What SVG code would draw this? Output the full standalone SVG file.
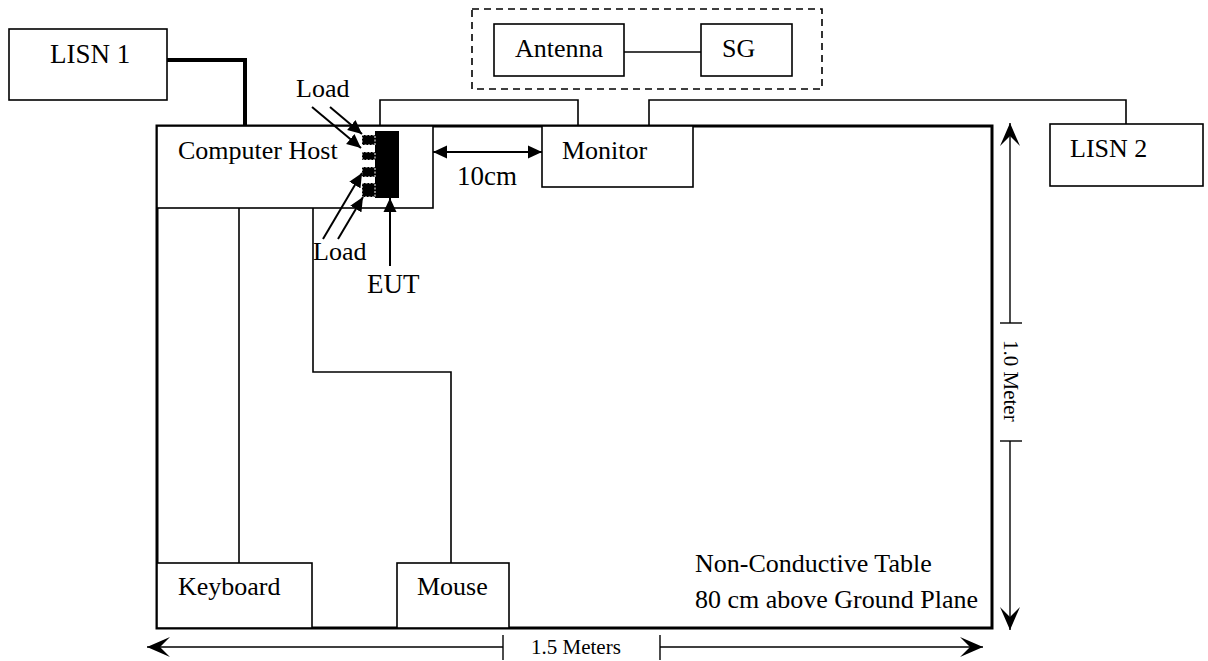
<svg xmlns="http://www.w3.org/2000/svg" width="1208" height="661" viewBox="0 0 1208 661">
<defs>
<style>
text{font-family:"Liberation Serif","Times New Roman",serif;fill:#000}
.lbl{font-size:26px}
.sm{font-size:21px}
.box{fill:#fff;stroke:#000;stroke-width:1.6}
.w{fill:none;stroke:#000;stroke-width:1.6}
.thick{fill:none;stroke:#000;stroke-width:4}
.arr{fill:none;stroke:#000;stroke-width:2}
.dim{fill:none;stroke:#000;stroke-width:1.4}
.port{fill:#000;stroke:#fff;stroke-width:1;stroke-dasharray:2,1.5}
</style>
<marker id="tri" viewBox="0 0 14 14" refX="14" refY="7" markerWidth="14" markerHeight="14" markerUnits="userSpaceOnUse" orient="auto-start-reverse">
<path d="M0,0.5 L14,7 L0,13.5 Z" fill="#000"/>
</marker>
<marker id="dimarr" viewBox="0 0 24 22" refX="23" refY="11" markerWidth="24" markerHeight="22" markerUnits="userSpaceOnUse" orient="auto-start-reverse">
<path d="M0,1 L23,11 L0,21 L10,11 Z" fill="#000"/>
</marker>
</defs>
<rect width="1208" height="661" fill="#fff"/>

<g id="table">
<rect x="157" y="126" width="835" height="502" fill="#fff" stroke="#000" stroke-width="3"/>
<text class="lbl" x="695" y="572">Non-Conductive Table</text>
<text class="lbl" x="695" y="608">80 cm above Ground Plane</text>
</g>

<g id="lisn1">
<rect class="box" x="9" y="29" width="158" height="71"/>
<text class="lbl" x="50" y="63" style="font-size:27px">LISN 1</text>
</g>

<g id="rf-source">
<rect x="472" y="9" width="350" height="80" fill="none" stroke="#000" stroke-width="1.6" stroke-dasharray="7,5"/>
</g>
<g id="antenna">
<rect class="box" x="494" y="24" width="130" height="52"/>
<text class="lbl" x="515" y="57">Antenna</text>
</g>
<g id="sg">
<rect class="box" x="701" y="24" width="91" height="52"/>
<text class="lbl" x="722" y="57">SG</text>
</g>

<g id="lisn2">
<rect class="box" x="1050" y="124" width="153" height="62"/>
<text class="lbl" x="1070" y="157">LISN 2</text>
</g>

<g id="computer-host">
<rect class="box" x="157" y="126" width="276" height="82"/>
<text class="lbl" x="178" y="159">Computer Host</text>
</g>

<g id="eut">
<rect x="375" y="131" width="24" height="67" fill="#000"/>
<rect class="port" x="362" y="135" width="13" height="10"/>
<rect class="port" x="362" y="152" width="13" height="8"/>
<rect class="port" x="362" y="167" width="13" height="10"/>
<rect class="port" x="362" y="183" width="13" height="14"/>
<text class="lbl" x="296" y="97">Load</text>
<text class="lbl" x="313" y="260">Load</text>
<text x="367" y="293" style="font-size:27px">EUT</text>
<text x="457" y="185" style="font-size:27px">10cm</text>
</g>

<g id="monitor">
<rect class="box" x="542" y="126" width="151" height="61"/>
<text class="lbl" x="562" y="159">Monitor</text>
</g>

<g id="keyboard">
<rect class="box" x="157" y="563" width="155" height="65"/>
<text class="lbl" x="178" y="595">Keyboard</text>
</g>

<g id="mouse">
<rect class="box" x="397" y="563" width="112" height="65"/>
<text class="lbl" x="417" y="595">Mouse</text>
</g>

<g id="connectors">
<polyline class="thick" points="167,60 245,60 245,126"/>
<polyline class="w" points="380,126 380,100 578,100 578,126"/>
<polyline class="w" points="649,126 649,100 1126,100 1126,124"/>
<line class="w" x1="624" y1="52" x2="701" y2="52"/>
<line class="w" x1="239" y1="208" x2="239" y2="563"/>
<polyline class="w" points="313,208 313,372 451,372 451,563"/>
<line class="arr" x1="433" y1="152" x2="542" y2="152" marker-start="url(#tri)" marker-end="url(#tri)"/>
<line class="arr" x1="312" y1="107" x2="361" y2="148" marker-end="url(#tri)"/>
<line class="arr" x1="330" y1="107" x2="362" y2="134" marker-end="url(#tri)"/>
<line class="arr" x1="323" y1="239" x2="362" y2="173" marker-end="url(#tri)"/>
<line class="arr" x1="338" y1="239" x2="363" y2="197" marker-end="url(#tri)"/>
<line class="arr" x1="390" y1="266" x2="390" y2="198" marker-end="url(#tri)"/>
</g>

<g id="dimensions">
<line class="dim" x1="1010" y1="323" x2="1010" y2="123" marker-end="url(#dimarr)"/>
<line class="dim" x1="1000" y1="323" x2="1022" y2="323"/>
<line class="dim" x1="1010" y1="441" x2="1010" y2="630" marker-end="url(#dimarr)"/>
<line class="dim" x1="1000" y1="441" x2="1022" y2="441"/>
<text class="sm" transform="translate(1004,340) rotate(90)">1.0 Meter</text>
<line class="dim" x1="503" y1="647" x2="147" y2="647" marker-end="url(#dimarr)"/>
<line class="dim" x1="503" y1="635" x2="503" y2="660"/>
<line class="dim" x1="660" y1="647" x2="983" y2="647" marker-end="url(#dimarr)"/>
<line class="dim" x1="660" y1="635" x2="660" y2="660"/>
<text class="sm" x="531" y="654">1.5 Meters</text>
</g>
</svg>
